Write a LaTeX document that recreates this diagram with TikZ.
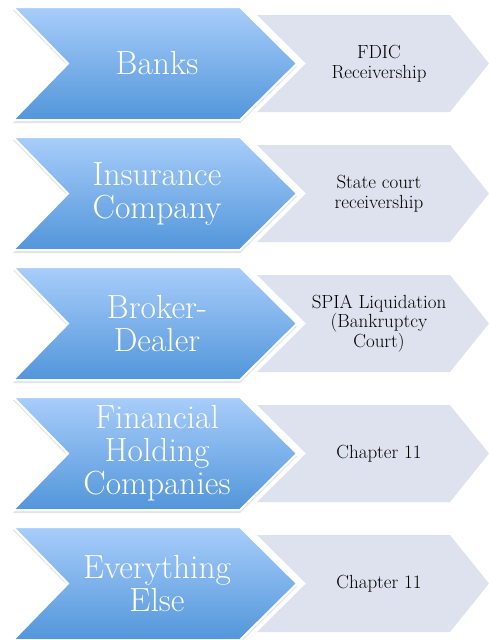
\documentclass[tikz,border=0pt]{standalone}
\usetikzlibrary{shadows}
\definecolor{chevtop}{RGB}{168,205,250}
\definecolor{chevbot}{RGB}{82,150,218}
\definecolor{tailgrey}{RGB}{221,226,238}
\tikzset{
  bigchev/.style={top color=chevtop, bottom color=chevbot, draw=white, line width=2pt,
    drop shadow={shadow xshift=0pt, shadow yshift=-3pt, opacity=0.22}},
  tailchev/.style={fill=tailgrey},
  bigtext/.style={text=white, font=\fontsize{33.5}{33}\selectfont, align=center},
  tailtext/.style={font=\fontsize{19}{19.5}\selectfont, align=center}
}
\begin{document}
\begin{tikzpicture}[x=1pt,y=-1pt]
\useasboundingbox (0,0) rectangle (489,640);

\foreach \i/\big/\tail in {0/{Banks}/{FDIC\\Receivership},
  1/{Insurance\\Company}/{State court\\receivership},
  2/{Broker-\\Dealer}/{SPIA Liquidation\\(Bankruptcy\\Court)},
  3/{Financial\\Holding\\Companies}/{Chapter 11},
  4/{Everything\\Else}/{Chapter 11}}
{
% grey tail first, blue chevron on top
\fill[tailchev] (257,15+130*\i) -- (450,15+130*\i) -- (489,63.5+130*\i)
  -- (450,112+130*\i) -- (257,112+130*\i) -- (306,63.5+130*\i) -- cycle;
\path[bigchev] (13,7+130*\i) -- (240,7+130*\i) -- (297,63.5+130*\i)
  -- (240,120+130*\i) -- (13,120+130*\i) -- (68,63.5+130*\i) -- cycle;
\node[bigtext] (big\i) at (157,63.5+130*\i) {\big};
\node[tailtext] (tail\i) at (379,63.5+130*\i) {\tail};
}
\end{tikzpicture}
\end{document}
